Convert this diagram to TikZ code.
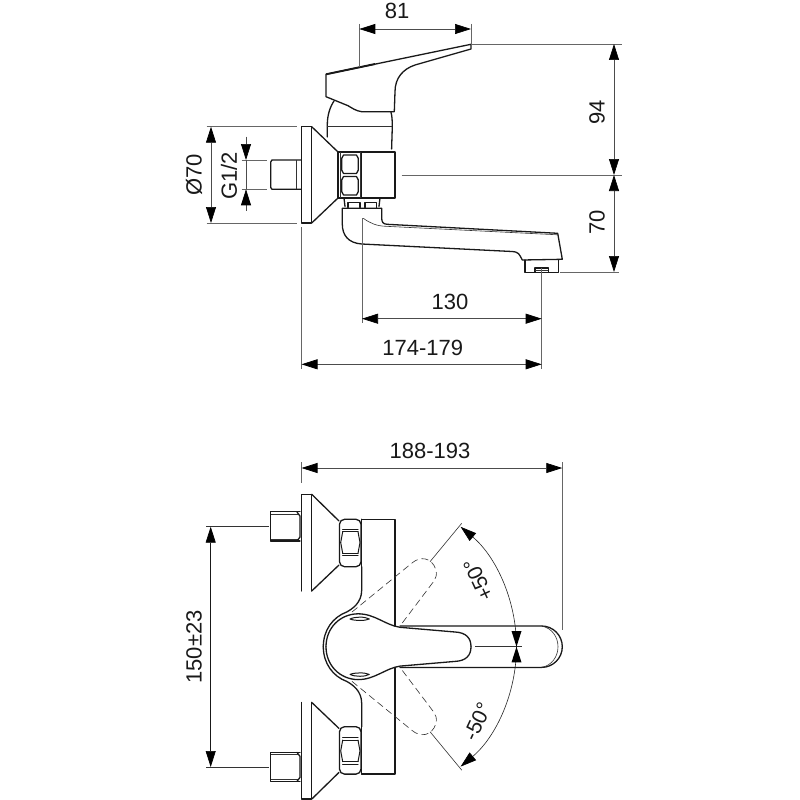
\documentclass[tikz,border=0pt]{standalone}
\usepackage{fontspec}
\setmainfont{Liberation Sans}
\usetikzlibrary{arrows.meta}
\tikzset{
  obj/.style={line width=1.3pt,line join=round,line cap=round,draw=black!90},
  fine/.style={line width=0.6pt,draw=black!80},
  dimline/.style={line width=0.7pt,draw=black!70},
  extline/.style={line width=0.7pt,draw=black!60},
  ghost/.style={line width=0.6pt,draw=black!80,dash pattern=on 7pt off 4pt},
  blackhead/.tip={Triangle[length=16pt,width=10pt,color=black]},
  dimboth/.style={dimline,{blackhead}-{blackhead}},
  dimend/.style={dimline,-{blackhead}},
  lab/.style={font=\fontsize{22}{22}\selectfont,text=black!90,inner sep=0pt},
  anglab/.style={font=\fontsize{21}{21}\selectfont,text=black!90,inner sep=0pt}
}
\newcommand{\halfview}{%
  % flange and cone
  \draw[obj] (301.7,591) -- (301.7,494.3) -- (311.7,494.3) -- (311.7,591);
  \draw[obj] (311.7,494.3) -- (339,521);
  % nipple
  \draw[obj] (300,511.7) -- (270.7,511.7) -- (270.7,541) -- (300,541);
  \draw[fine] (271,514) -- (298,514) (271,539) -- (298,539);
  \draw[obj] (297,512) -- (300,516) -- (300,537) -- (297,541);
  % nut
  \draw[obj,rounded corners=5pt] (339.5,519.3) rectangle (361,566.7);
  \draw[obj,line width=1pt] (342.5,529.3) -- (358,529.3) (342.5,555.7) -- (358,555.7);
  \draw[obj,line width=1pt] (342.7,531.7) -- (358,531.7) (342.7,553.3) -- (358,553.3);
  \draw[obj,line width=1pt] (342.7,531.7) -- (340.7,542.5) -- (342.7,553.3);
  \draw[obj,line width=1pt] (358,531.7) -- (360,542.5) -- (358,553.3);
  % body
  \draw[obj] (361.7,566.7) -- (361.7,590) .. controls (361.7,603) and (352,609) .. (346.7,612)
     .. controls (333,617) and (323.3,630) .. (323.3,646.7);
  \draw[obj] (361.7,519.3) -- (361.7,566.7);
  \draw[obj] (361.7,519.3) -- (395,519.3) -- (395,626);
  % handle
  \draw[obj] (326,646.7) .. controls (326,628) and (340,614) .. (358,613.8)
     .. controls (375,613.8) and (385,625) .. (400,627.3) -- (455,632)
     .. controls (466,632.5) and (471,638) .. (471,646.7);
  \draw[obj,line width=1pt] (350,619) .. controls (355,616.5) and (365,616.5) .. (369.3,619)
     .. controls (365,621) and (355,621) .. (350,619);
  % long spout seen from above
  \draw[obj] (400,626) -- (541.6,626) arc[start angle=90,end angle=0,radius=20.7pt];
  \draw[fine] (541.6,626) .. controls (552,628) and (558,637) .. (558,646.7);
  % ghost handle
  \draw[ghost] (352,612) -- (412,563) .. controls (420,556) and (432,557) .. (436,570)
     .. controls (437,575) and (436,578) .. (434,581) -- (400,626);
  % witness line
  \draw[fine] (430,561.7) -- (461.7,523.3);
}
\begin{document}
\begin{tikzpicture}[x=1pt,y=-1pt]
\path[use as bounding box,fill=white] (0,0) rectangle (800,800);

% ---------- side view ----------
\draw[obj] (311.7,126.7) -- (301.5,126.7) -- (301.5,223) -- (311.7,223) -- cycle;
\draw[obj] (311.7,126.7) -- (338,152) (311.7,223) -- (338,198);
\draw[obj] (300.7,160) -- (272,160) -- (270.7,162) -- (270.7,187.5) -- (272,189.3) -- (300.7,189.3);
\draw[fine] (296.7,160) -- (296.7,189.3);
\draw[obj] (338,152) rectangle (395,198);
\draw[obj] (361.7,152) -- (361.7,198);
\draw[fine] (359.8,152) -- (359.8,198) (340,152) -- (340,198);
\draw[obj] (343.5,155) -- (356.5,155) -- (358.3,158.5) -- (358.3,170) -- (356.5,173.5) -- (343.5,173.5) -- (341.7,170) -- (341.7,158.5) -- cycle;
\draw[obj] (343.5,176.5) -- (356.5,176.5) -- (358.3,180) -- (358.3,191.5) -- (356.5,195) -- (343.5,195) -- (341.7,191.5) -- (341.7,180) -- cycle;
\draw[obj] (327.3,137) -- (327.3,125) .. controls (327.3,115) and (330,107) .. (334,101);
\draw[obj] (391.6,149) -- (392.3,126.7) .. controls (392.3,120) and (392,116) .. (391,112.3);
\draw[fine] (327.3,126.7) -- (392.3,126.7);
% lever
\draw[obj] (326,74.3) -- (471,44.3) -- (471,49) -- (415,65)
  .. controls (403,69) and (395,78) .. (395,91.7) -- (394.3,111.7)
  -- (361.7,111.7) .. controls (356,111) and (352,108) .. (348,105.7) -- (326,96.7) -- cycle;
\draw[line width=1.9pt,draw=black!90] (326,74.3) -- (375,64);
% spout
\draw[obj] (344,198) -- (345,206.5) (380,198) -- (379,206.5);
\draw[obj] (348,207.5) -- (348,202.3) -- (360,202.3) -- (360,207.5);
\draw[obj] (365,207.5) -- (365,202.3) -- (376.7,202.3) -- (376.7,207.5);
\draw[obj] (342.3,208.3) -- (381.7,208.3) -- (381.7,218)
  .. controls (381.7,222) and (383,224) .. (387,224.3) -- (557.7,233.3) -- (562.3,259.3) -- (522.3,260)
  .. controls (519,254) and (519,252) .. (512,251.5) -- (361.7,244)
  .. controls (348,243) and (342.3,235) .. (342.3,224) -- cycle;
\draw[fine] (363.3,218.3) .. controls (370,223) and (376,226) .. (386,226.3) -- (557.7,234.8);
\draw[obj] (525,260) -- (525,272.3) -- (558.3,272.3) -- (558.3,260);
\draw[obj] (535,272.3) -- (535,268) -- (548.3,268) -- (548.3,272.3);
\draw[fine] (535,270) -- (548.3,270);

% ---------- side view dimensions ----------
\coordinate (a81l) at (359.3,29);
\coordinate (a81r) at (471,29);
\draw[extline] (359.3,24) -- (359.3,66.7) (471,24) -- (471,44);
\draw[dimboth] (a81l) -- (a81r);
\node[lab] (t81) at (397,11) {81};

\draw[extline] (471,44) -- (622,44) (401.7,175) -- (622,175) (560,272) -- (619,272);
\coordinate (a94t) at (614,44);
\coordinate (a94b) at (614,175);
\coordinate (a70b) at (614,272);
\draw[dimboth] (a94t) -- (a94b);
\draw[dimboth] (a94b) -- (a70b);
\node[lab,rotate=90] (t94) at (597,112) {94};
\node[lab,rotate=90] (t70) at (597,222) {70};

\draw[extline] (206.7,126.7) -- (296.7,126.7) (206.7,223) -- (296.7,223);
\coordinate (aD1) at (211,126.7);
\coordinate (aD2) at (211,223);
\draw[dimboth] (aD1) -- (aD2);
\node[lab,rotate=90] (tD) at (194,175) {Ø70};

\draw[extline] (241.7,160) -- (267.3,160) (241.7,189.3) -- (267.3,189.3);
\coordinate (aG0) at (246,136.7);
\coordinate (aG1) at (246,160);
\coordinate (aG2) at (246,189.3);
\coordinate (aG3) at (246,210.7);
\draw[dimend] (aG0) -- (aG1);
\draw[dimend] (aG3) -- (aG2);
\draw[dimline] (aG1) -- (aG2);
\node[lab,rotate=90] (tG) at (229,176) {G1/2};

\draw[extline] (362,218) -- (362,322.7) (541.7,268) -- (541.7,369) (301.5,227) -- (301.5,369);
\coordinate (a130l) at (362,318.7);
\coordinate (a130r) at (541.7,318.7);
\draw[dimboth] (a130l) -- (a130r);
\node[lab] (t130) at (450,301.7) {130};
\coordinate (a174l) at (301.5,364.3);
\coordinate (a174r) at (541.7,364.3);
\draw[dimboth] (a174l) -- (a174r);
\node[lab] (t174) at (422.7,347.7) {174-179};

% ---------- front view ----------
\halfview
\begin{scope}[cm={1,0,0,-1,(0pt,-1293.4pt)}]
\halfview
\end{scope}
\draw[obj] (311.7,591) -- (339,565);
\draw[obj] (311.7,702.4) -- (339,728.4);
\draw[fine] (475,646.7) -- (521.7,646.7);

% ---------- front view dimensions ----------
\draw[extline] (301.5,462) -- (301.5,483) (562.3,462) -- (562.3,630);
\coordinate (a188l) at (301.5,468);
\coordinate (a188r) at (562.3,468);
\draw[dimboth] (a188l) -- (a188r);
\node[lab] (t188) at (430,451) {188-193};

\draw[fine] (206,526.7) -- (269,526.7) (206,767) -- (269,767);
\coordinate (a150t) at (210.7,526.7);
\coordinate (a150b) at (210.7,767);
\draw[dimboth,draw=black!90] (a150t) -- (a150b);
\node[lab,rotate=90] (t150) at (194,647) {150±23};

\coordinate (arc0) at (516.5,646.7);
\coordinate (arcP) at (460.6,526.8);
\coordinate (arcM) at (460.6,766.6);
\draw[dimend,draw=black!85,line width=0.6pt] (arc0) .. controls (516.5,600.4) and (496,556.5) .. (arcP);
\draw[dimend,draw=black!85,line width=0.6pt] (arc0) .. controls (516.5,693) and (496,736.9) .. (arcM);
\path[fill=black] (arc0) -- (511.5,631) -- (521.5,631) -- cycle;
\path[fill=black] (arc0) -- (511.5,662.4) -- (521.5,662.4) -- cycle;
\node[anglab,rotate=115] (tp) at (478.3,580) {+50°};
\node[anglab,rotate=65] (tm) at (477.3,721.7) {-50°};
\end{tikzpicture}
\end{document}
